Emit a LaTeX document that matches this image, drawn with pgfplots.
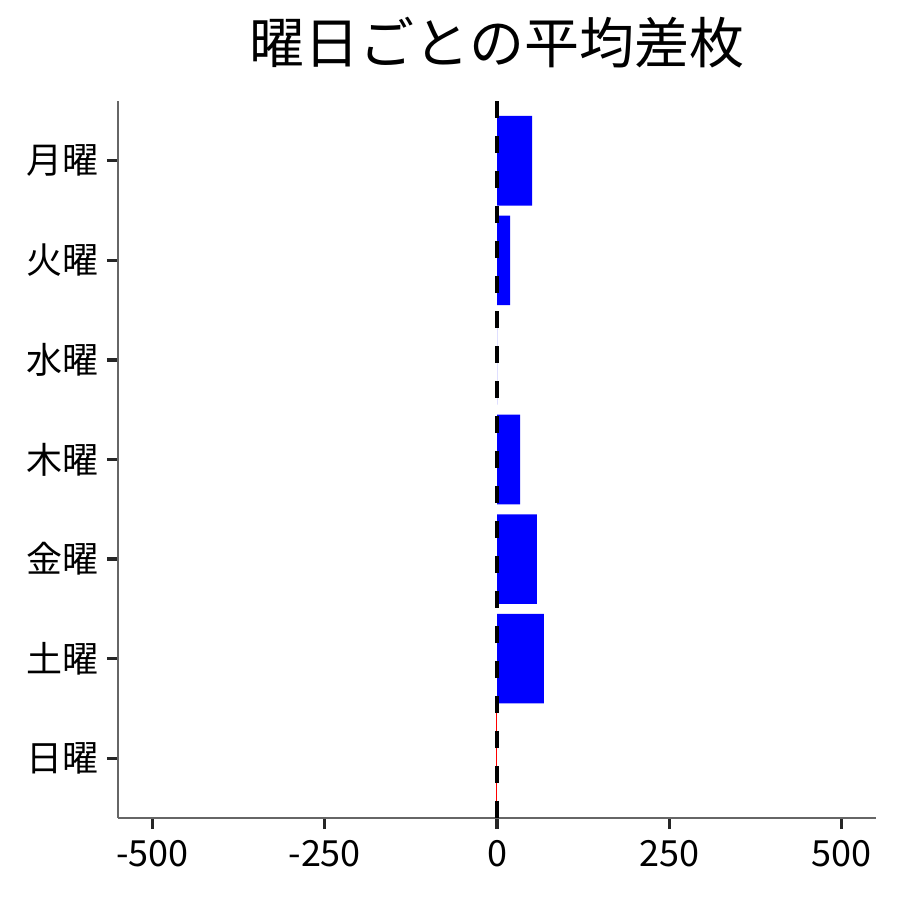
\documentclass[border=0pt]{standalone}
\usepackage{fontspec}
\setmainfont{Noto Sans CJK JP}
\usepackage{pgfplots}
\pgfplotsset{compat=1.18}
\definecolor{barblue}{HTML}{0000FF}
\definecolor{barred}{HTML}{FF0000}
\begin{document}
\begin{tikzpicture}
\path[use as bounding box] (-59pt,-41pt) rectangle (391pt,409pt);
\begin{axis}[
    scale only axis,
    width=379pt, height=358.5pt,
    xmin=-550, xmax=550,
    ymin=0.4, ymax=7.6,
    xtick={-500,-250,0,250,500},
    xticklabels={-500,-250,0,250,500},
    ytick={1,2,3,4,5,6,7},
    yticklabels={日曜,土曜,金曜,木曜,水曜,火曜,月曜},
    axis x line*=bottom, axis y line*=left,
    axis line style={black!60, line width=0.6pt, -},
    tick align=outside,
    major tick length=5.5pt,
    tick style={black!85, line width=1.6pt},
    ticklabel style={font=\fontsize{18}{20}\selectfont, text=black},
    yticklabel style={xshift=-0.5pt},
    xticklabel style={yshift=-2pt},
    title={曜日ごとの平均差枚},
    title style={font=\fontsize{27.5}{30}\selectfont, at={(0.5,1)}, anchor=center, yshift=23pt},
]
\addplot[xbar, bar width=0.9, bar shift=0pt, draw=none, fill=barblue] coordinates {
    (51,7) (19,6) (0,5) (33.5,4) (58,3) (68,2)
};
\addplot[xbar, bar width=0.9, bar shift=0pt, draw=none, fill=barred] coordinates {(-1,1)};
\addplot[black, line width=2pt, dash pattern=on 8.4pt off 9.1pt]
    coordinates {(0,0.4) (0,7.6)};
\end{axis}
\end{tikzpicture}
\end{document}
